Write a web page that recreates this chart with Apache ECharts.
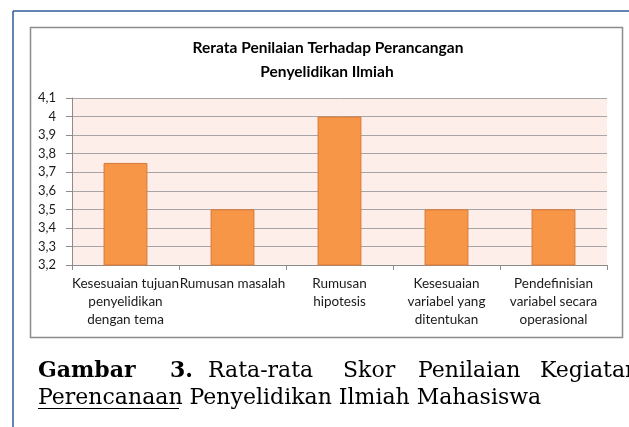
<!DOCTYPE html>
<html>
<head>
<meta charset="utf-8">
<script src="https://cdn.jsdelivr.net/npm/echarts@6/dist/echarts.min.js"></script>
<style>html,body{margin:0;padding:0;background:#fff;}#c{width:629px;height:427px;}</style>
</head>
<body>
<div id="c"></div>
<script>
const categories = [
  "Kesesuaian tujuan\npenyelidikan\ndengan tema",
  "Rumusan masalah",
  "Rumusan\nhipotesis",
  "Kesesuaian\nvariabel yang\nditentukan",
  "Pendefinisian\nvariabel secara\noperasional"
];
const values = [3.75, 3.5, 4.0, 3.5, 3.5];
const yMin = 3.2, yMax = 4.1, yStep = 0.1;
const titleLines = ["Rerata Penilaian Terhadap Perancangan", "Penyelidikan Ilmiah"];
const captionLine1 = [["Gambar", true, 38], ["3.", true, 170], ["Rata-rata", false, 208], ["Skor", false, 343], ["Penilaian", false, 418], ["Kegiatan", false, 540]];
const captionLine2 = "Perencanaan Penyelidikan Ilmiah Mahasiswa";

const chart = echarts.init(document.getElementById('c'));
const uiFont = 'Lato';
const serif = 'DejaVu Serif';
const graphics = [
  {type:'line', shape:{x1:13, y1:11, x2:629, y2:11}, style:{stroke:'#2f5b9a', lineWidth:1.5}},
  {type:'line', shape:{x1:13, y1:11, x2:13, y2:427}, style:{stroke:'#2f5b9a', lineWidth:1.5}},
  {type:'rect', shape:{x:30.5, y:27.5, width:592, height:310}, style:{fill:null, stroke:'#8c8c8c', lineWidth:1.5}, z:-1},
  {type:'text', x:328, y:48, style:{text:titleLines[0], font:'bold 15.5px ' + uiFont, fill:'#000', align:'center', verticalAlign:'middle'}},
  {type:'text', x:327, y:72, style:{text:titleLines[1], font:'bold 15.5px ' + uiFont, fill:'#000', align:'center', verticalAlign:'middle'}},
  {type:'text', x:38, y:398, style:{text:captionLine2, font:'22px ' + serif, fill:'#000', align:'left', verticalAlign:'middle'}},
  {type:'line', shape:{x1:38, y1:408.5, x2:179, y2:408.5}, style:{stroke:'#000', lineWidth:1}}
];
captionLine1.forEach(function (w) {
  graphics.push({type:'text', x:w[2], y:371, style:{text:w[0], font:(w[1] ? 'bold ' : '') + '22px ' + serif, fill:'#000', align:'left', verticalAlign:'middle'}});
});

chart.setOption({
  backgroundColor: '#fff',
  animation: false,
  grid: {left:72, right:22, top:98, bottom:162, show:true, backgroundColor:'#fdeee9', borderWidth:0},
  xAxis: {
    type:'category', data:categories,
    axisLine:{show:true, lineStyle:{color:'#8c8c8c', width:1}},
    axisTick:{show:true, length:5, alignWithLabel:false, lineStyle:{color:'#8c8c8c'}},
    axisLabel:{interval:0, color:'#1a1a1a', fontFamily:uiFont, fontSize:13.5, lineHeight:18, margin:10}
  },
  yAxis: {
    type:'value', min:yMin, max:yMax, interval:yStep,
    axisLine:{show:true, lineStyle:{color:'#8c8c8c', width:1}},
    axisTick:{show:true, length:6, lineStyle:{color:'#8c8c8c'}},
    splitLine:{show:true, lineStyle:{color:'#a6a6a6', width:1}},
    axisLabel:{color:'#1a1a1a', fontFamily:uiFont, fontSize:13, margin:16,
      formatter:function (v) { return String(Number(v.toFixed(1))).replace('.', ','); }}
  },
  series: [{
    type:'bar', data:values, barWidth:'41%',
    itemStyle:{color:'#f79646', borderColor:'#d9783a', borderWidth:1}
  }],
  graphic: graphics
});
</script>
</body>
</html>
